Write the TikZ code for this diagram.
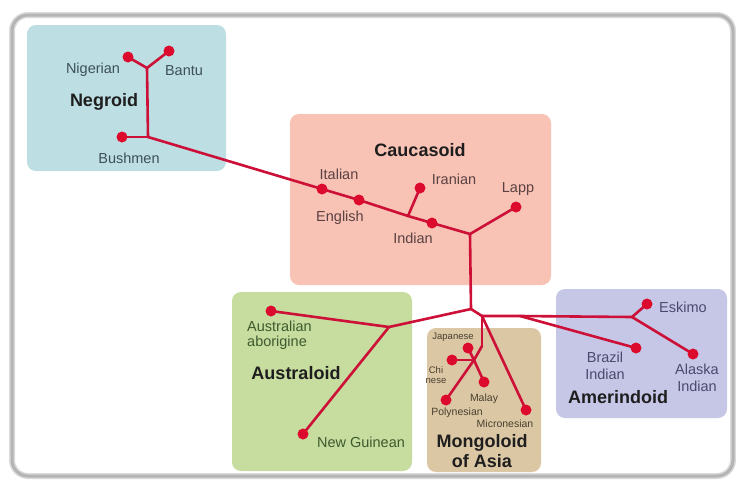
\documentclass[tikz,border=0pt]{standalone}
\usepackage{fontspec}
\setmainfont{Liberation Sans}
\definecolor{frameg}{HTML}{B4B4B4}
\definecolor{boxneg}{HTML}{BDDEE3}
\definecolor{boxcau}{HTML}{F8C2B4}
\definecolor{boxaus}{HTML}{C7DC9F}
\definecolor{boxmon}{HTML}{DCC7A4}
\definecolor{boxame}{HTML}{C6C7E6}
\definecolor{txneg}{HTML}{3D5058}
\definecolor{txcau}{HTML}{5A4242}
\definecolor{txaus}{HTML}{3E5A2E}
\definecolor{txmon}{HTML}{4A4030}
\definecolor{txame}{HTML}{4A4A70}
\definecolor{txtitle}{HTML}{1E1E1E}
\definecolor{treered}{HTML}{CC1038}
\definecolor{dotred}{HTML}{DC0A2C}
\tikzset{
  region/.style={rounded corners=9pt},
  branch/.style={draw=treered, line width=2.6pt, line join=round, line cap=round},
  leafdot/.style={circle, fill=dotred, minimum size=11pt, inner sep=0pt},
  lbl/.style={font=\fontsize{14.5}{16}\selectfont, inner sep=0pt, align=center},
  smalllbl/.style={font=\fontsize{10.5}{12}\selectfont, inner sep=0pt, align=center},
  title/.style={font=\fontsize{18}{20}\selectfont\bfseries, text=txtitle, inner sep=0pt, align=center},
}
\begin{document}
\begin{tikzpicture}[x=1pt,y=-1pt]
\useasboundingbox (0,0) rectangle (736,483);
\fill[white] (0,0) rectangle (736,483);
% outer frame
\draw[frameg!50, line width=6pt, rounded corners=16pt] (12,15) rectangle (733,476);
\draw[frameg, line width=3pt, rounded corners=16pt] (12,15) rectangle (733,476);
% regions
\fill[boxneg, region] (27,25) rectangle (226,171);
\fill[boxcau, region] (290,114) rectangle (551,285);
\fill[boxaus, region] (232,292) rectangle (412,471);
\fill[boxmon, region] (427,328) rectangle (541,472);
\fill[boxame, region] (556,289) rectangle (727,418);

% coordinates
\coordinate (pNig) at (128,57);
\coordinate (pBan) at (169,51);
\coordinate (jNeg) at (147,68);
\coordinate (jBus) at (148,137);
\coordinate (pBus) at (122,137);
\coordinate (pIta) at (322,189);
\coordinate (pEng) at (359,200);
\coordinate (jIra) at (408,216);
\coordinate (pIra) at (420,188);
\coordinate (pInd) at (432,223);
\coordinate (jCau) at (470,234);
\coordinate (pLap) at (516,207);
\coordinate (jCen) at (471,309);
\coordinate (jAus) at (389,327);
\coordinate (pAab) at (271,311);
\coordinate (pNgu) at (303,434);
\coordinate (jMon) at (482,316);
\coordinate (jMo2) at (482,346);
\coordinate (jMo3) at (474,360);
\coordinate (pJap) at (468,348);
\coordinate (pChi) at (452,360);
\coordinate (pMal) at (484,382);
\coordinate (pPol) at (446,400);
\coordinate (pMic) at (526,410);
\coordinate (jAmb) at (520,316);
\coordinate (jEsk) at (632,317);
\coordinate (pEsk) at (647,304);
\coordinate (pAla) at (693,354);
\coordinate (pBra) at (636,348);

% branches
\draw[branch] (pNig) -- (jNeg) -- (pBan);
\draw[branch] (jNeg) -- (jBus);
\draw[branch] (pBus) -- (jBus);
\draw[branch] (jBus) -- (pIta) -- (pEng) -- (jIra) -- (pInd) -- (jCau);
\draw[branch] (jIra) -- (pIra);
\draw[branch] (jCau) -- (pLap);
\draw[branch] (jCau) -- (jCen);
\draw[branch] (jCen) -- (jAus);
\draw[branch] (jAus) -- (pAab);
\draw[branch] (jAus) -- (pNgu);
\draw[branch] (jCen) -- (jMon);
\draw[branch] (jMon) -- (jMo2);
\draw[branch] (jMo2) -- (jMo3) -- (pPol);
\draw[branch] (jMo3) -- (pJap);
\draw[branch] (jMo3) -- (pChi);
\draw[branch] (jMo3) -- (pMal);
\draw[branch] (jMon) -- (pMic);
\draw[branch] (jMon) -- (jAmb) -- (jEsk);
\draw[branch] (jEsk) -- (pEsk);
\draw[branch] (jEsk) -- (pAla);
\draw[branch] (jAmb) -- (pBra);

% dots
\foreach \p/\n in {pNig/dNig,pBan/dBan,pBus/dBus,pIta/dIta,pEng/dEng,pIra/dIra,pInd/dInd,pLap/dLap,pAab/dAab,pNgu/dNgu,pJap/dJap,pChi/dChi,pMal/dMal,pPol/dPol,pMic/dMic,pEsk/dEsk,pAla/dAla,pBra/dBra}
  \node[leafdot] (\n) at (\p) {};

% Negroid labels
\node[lbl, text=txneg] (tNig) at (93,70) {Nigerian};
\node[lbl, text=txneg] (tBan) at (184,71) {Bantu};
\node[title] (tNeg) at (104,102) {Negroid};
\node[lbl, text=txneg] (tBus) at (129,158) {Bushmen};
% Caucasoid labels
\node[title] (tCau) at (420,150) {Caucasoid};
\node[lbl, text=txcau] (tIta) at (339,174) {Italian};
\node[lbl, text=txcau] (tEng) at (340,218) {English};
\node[lbl, text=txcau] (tIra) at (454,179) {Iranian};
\node[lbl, text=txcau] (tInd) at (413,238) {Indian};
\node[lbl, text=txcau] (tLap) at (518,189) {Lapp};
% Australoid labels
\node[lbl, text=txaus, align=left, anchor=west, font=\fontsize{14.5}{15.5}\selectfont] (tAab) at (247,335) {Australian\\aborigine};
\node[title] (tAus) at (296,373) {Australoid};
\node[lbl, text=txaus] (tNgu) at (361,442) {New Guinean};
% Mongoloid labels
\node[smalllbl, text=txmon, font=\fontsize{9.5}{10}\selectfont] (tJap) at (453,337) {Japanese};
\node[smalllbl, text=txmon, font=\fontsize{9.5}{10}\selectfont] (tChi) at (436,375) {Chi\\nese};
\node[smalllbl, text=txmon] (tMal) at (484,399) {Malay};
\node[smalllbl, text=txmon] (tPol) at (457,413) {Polynesian};
\node[smalllbl, text=txmon] (tMic) at (505,424) {Micronesian};
\node[title] (tMon) at (482,451) {Mongoloid\\of Asia};
% Amerindoid labels
\node[lbl, text=txame] (tEsk) at (683,307) {Eskimo};
\node[lbl, text=txame, font=\fontsize{14.5}{16.5}\selectfont] (tBra) at (605,366) {Brazil\\Indian};
\node[lbl, text=txame, font=\fontsize{14.5}{16.5}\selectfont] (tAla) at (697,378) {Alaska\\Indian};
\node[title] (tAme) at (618,397) {Amerindoid};
\end{tikzpicture}
\end{document}
